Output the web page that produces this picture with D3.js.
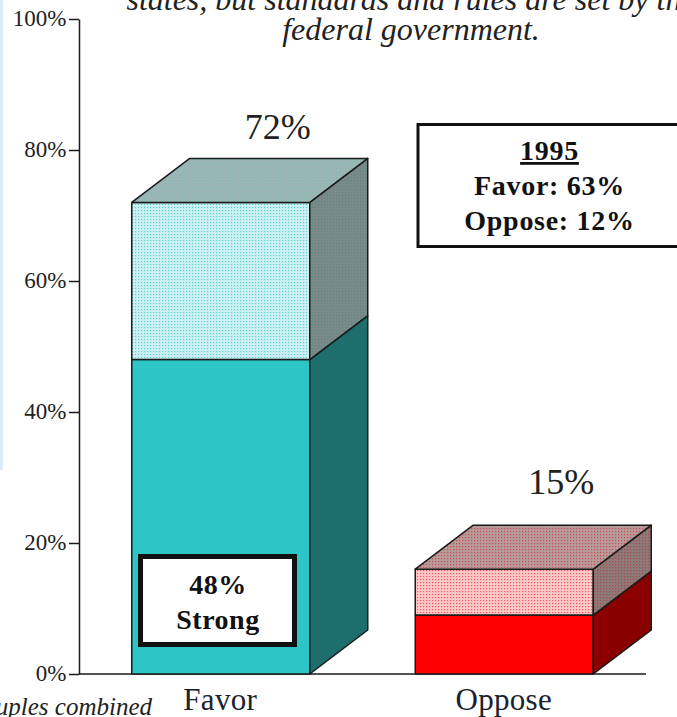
<!DOCTYPE html>
<html>
<head>
<meta charset="utf-8">
<script src="https://cdn.jsdelivr.net/npm/d3@7"></script>
<style>
  html, body { margin: 0; padding: 0; background: #fff; overflow: hidden; }
  svg { display: block; font-family: "Liberation Serif", serif; }
</style>
</head>
<body>
<svg id="chart" width="677" height="717"></svg>
<script>
var categories = ["Favor", "Oppose"];
var strongValues = [48, 9];
var totalValues = [72, 16];
var totalLabels = ["72%", "15%"];
var tickValues = [0, 20, 40, 60, 80, 100];
var titleLines = ["states, but standards and rules are set by the", "federal government."];
var insetLines = ["1995", "Favor: 63%", "Oppose: 12%"];
var strongLines = ["48%", "Strong"];

var depthX = 58, depthY = 44;
var barWidth = 178;

var svg = d3.select("#chart");
var defs = svg.append("defs");

var y = d3.scaleLinear().domain([0, 100]).range([674, 19]);
var x = d3.scaleBand().domain(categories).range([79, 646]);

function barLeft(name) {
  return x(name) + (x.bandwidth() - barWidth) / 2;
}

function dotPattern(id, base, dot) {
  var p = defs.append("pattern")
    .attr("id", id)
    .attr("patternUnits", "userSpaceOnUse")
    .attr("width", 3)
    .attr("height", 3);
  p.append("rect").attr("width", 3).attr("height", 3).attr("fill", base);
  p.append("rect").attr("width", 1.2).attr("height", 1.2).attr("fill", dot);
}

dotPattern("tealFront", "#cdf1f3", "#5fd0cc");
dotPattern("tealTop", "#9cb5b5", "#7fbcb8");
dotPattern("tealSide", "#7a8a8a", "#5f8684");
dotPattern("redFront", "#ffc8c8", "#f25a5a");
dotPattern("redTop", "#b89a9a", "#c85050");
dotPattern("redSide", "#8e7878", "#a05050");

var palettes = [
  { solid: "#2cc6c6", solidSide: "#1e6e6e", front: "url(#tealFront)", top: "url(#tealTop)", side: "url(#tealSide)" },
  { solid: "#ff0000", solidSide: "#8a0000", front: "url(#redFront)", top: "url(#redTop)", side: "url(#redSide)" }
];

// blue strip of the page behind the chart
svg.append("rect").attr("x", 0).attr("y", 0).attr("width", 3).attr("height", 470).attr("fill", "#dcebfa");

function face(points, fill) {
  svg.append("polygon")
    .attr("points", points.map(function (p) { return p.join(","); }).join(" "))
    .attr("fill", fill)
    .attr("stroke", "#1a1a1a")
    .attr("stroke-width", 1.5)
    .attr("stroke-linejoin", "round");
}

function drawBlock(left, right, y0, y1, frontFill, sideFill) {
  face([[left, y1], [right, y1], [right, y0], [left, y0]], frontFill);
  face([[right, y1], [right + depthX, y1 - depthY], [right + depthX, y0 - depthY], [right, y0]], sideFill);
}

// axis
var yAxis = d3.axisLeft(y)
  .tickValues(tickValues)
  .tickFormat(function (d) { return d + "%"; })
  .tickSize(10)
  .tickSizeOuter(0);

var axisGroup = svg.append("g").attr("transform", "translate(79,0)").call(yAxis);
axisGroup.select(".domain").attr("stroke", "#1a1a1a").attr("stroke-width", 1.5);
axisGroup.selectAll(".tick line").attr("stroke", "#1a1a1a").attr("stroke-width", 1.5);
axisGroup.selectAll(".tick text")
  .attr("font-family", "Liberation Serif")
  .attr("font-size", 23)
  .attr("fill", "#222")
  .attr("x", -12.5)
  .attr("dy", "0.28em");

svg.append("line")
  .attr("x1", 79).attr("x2", 646)
  .attr("y1", y(0)).attr("y2", y(0))
  .attr("stroke", "#1a1a1a").attr("stroke-width", 1.5);

// bars
categories.forEach(function (name, i) {
  var left = barLeft(name);
  var right = left + barWidth;
  var pal = palettes[i];
  drawBlock(left, right, y(0), y(strongValues[i]), pal.solid, pal.solidSide);
  drawBlock(left, right, y(strongValues[i]), y(totalValues[i]), pal.front, pal.side);
  face([
    [left, y(totalValues[i])],
    [left + depthX, y(totalValues[i]) - depthY],
    [right + depthX, y(totalValues[i]) - depthY],
    [right, y(totalValues[i])]
  ], pal.top);

  svg.append("text")
    .attr("x", left + barWidth / 2 + 57)
    .attr("y", y(totalValues[i]) - depthY - (i === 1 ? 31 : 19))
    .attr("text-anchor", "middle")
    .attr("font-size", 36)
    .attr("fill", "#222")
    .text(totalLabels[i]);

  svg.append("text")
    .attr("x", left + barWidth / 2 - 0.5)
    .attr("y", 710)
    .attr("text-anchor", "middle")
    .attr("font-size", 31)
    .attr("letter-spacing", 0.3)
    .attr("fill", "#1a2230")
    .text(name);
});

// title, cut off by the top of the picture
svg.selectAll(".title")
  .data(titleLines)
  .enter().append("text")
  .attr("class", "title")
  .attr("x", 411)
  .attr("y", function (d, i) { return 9.5 + i * 30; })
  .attr("text-anchor", "middle")
  .attr("font-size", 32)
  .attr("font-style", "italic")
  .attr("fill", "#222")
  .text(function (d) { return d; });

svg.append("text")
  .attr("x", 152)
  .attr("y", 715)
  .attr("text-anchor", "end")
  .attr("font-size", 25)
  .attr("font-style", "italic")
  .attr("fill", "#222")
  .text("Couples combined");

// 1995 box
svg.append("rect")
  .attr("x", 418).attr("y", 124.5)
  .attr("width", 280).attr("height", 122)
  .attr("fill", "#fff").attr("stroke", "#111").attr("stroke-width", 3);

svg.selectAll(".inset")
  .data(insetLines)
  .enter().append("text")
  .attr("class", "inset")
  .attr("x", 549.5)
  .attr("y", function (d, i) { return 160 + i * 35; })
  .attr("text-anchor", "middle")
  .attr("font-size", 28)
  .attr("font-weight", "bold")
  .attr("letter-spacing", 0.7)
  .attr("fill", "#111")
  .attr("text-decoration", function (d, i) { return i === 0 ? "underline" : null; })
  .text(function (d) { return d; });

// strong box
svg.append("rect")
  .attr("x", 140.5).attr("y", 556.5)
  .attr("width", 154).attr("height", 88)
  .attr("fill", "#fff").attr("stroke", "#111").attr("stroke-width", 5);

svg.selectAll(".strong")
  .data(strongLines)
  .enter().append("text")
  .attr("class", "strong")
  .attr("x", 218)
  .attr("y", function (d, i) { return 594 + i * 35; })
  .attr("text-anchor", "middle")
  .attr("font-size", 28)
  .attr("font-weight", "bold")
  .attr("letter-spacing", 0.5)
  .attr("fill", "#111")
  .text(function (d) { return d; });
</script>
</body>
</html>
